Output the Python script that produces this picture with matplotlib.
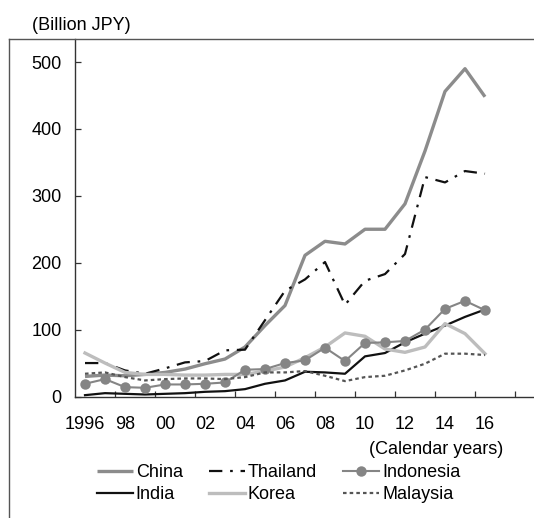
import matplotlib
matplotlib.use("Agg")
import matplotlib.pyplot as plt
from matplotlib.lines import Line2D

plt.rcParams['font.family'] = ['Liberation Sans', 'DejaVu Sans']

years = list(range(1996, 2017))
china = [30, 32, 31, 33, 36, 41, 49, 56, 74, 106, 136, 211, 232, 228, 250, 250, 288, 367, 456, 490, 448]
thailand = [50, 50, 39, 34, 42, 51, 53, 69, 70, 114, 158, 175, 201, 137, 173, 183, 213, 328, 320, 337, 333]
indonesia = [19, 26, 14, 13, 18, 18, 19, 21, 40, 41, 50, 54, 73, 53, 80, 81, 83, 100, 131, 143, 129]
india = [2, 5, 4, 3, 4, 5, 7, 8, 11, 19, 24, 37, 36, 34, 60, 65, 81, 94, 106, 119, 130]
korea = [65, 50, 36, 33, 33, 32, 32, 33, 33, 38, 44, 58, 74, 95, 90, 71, 66, 74, 109, 94, 64]
malaysia = [34, 36, 29, 24, 26, 27, 27, 26, 29, 36, 36, 38, 31, 23, 29, 31, 39, 49, 64, 64, 62]

tick_years = [1996, 1998, 2000, 2002, 2004, 2006, 2008, 2010, 2012, 2014, 2016]
tick_labels = ['1996', '98', '00', '02', '04', '06', '08', '10', '12', '14', '16']
y_ticks = [0, 100, 200, 300, 400, 500]

W, H = 534, 518
fig = plt.figure(figsize=(W / 100, H / 100), dpi=100)
ax = fig.add_axes([75 / W, 1 - 396.5 / H, (W - 75) / W, (396.5 - 39) / H])

ax.plot(years, china, color='#8c8c8c', lw=2.4, label='China', solid_capstyle='butt')
ax.plot(years, india, color='#111111', lw=1.6, label='India')
ax.plot(years, thailand, color='#111111', lw=1.6, dashes=(6, 3.5, 1.2, 3.5), label='Thailand')
ax.plot(years, korea, color='#bdbdbd', lw=2.4, label='Korea')
ax.plot(years, indonesia, color='#858585', lw=1.5, marker='o', markersize=7.5,
        markeredgewidth=0, label='Indonesia')
ax.plot(years, malaysia, color='#555555', lw=1.6, dashes=(1.6, 1.4), label='Malaysia')

ax.set_xlim(1995.5, 1996 + (W - 85) / 20)
ax.set_ylim(0, (396.5 - 39) / 0.669)

ax.set_xticks(tick_years)
ax.set_xticklabels(tick_labels)
ax.set_xticks([1997.5 + 2 * i for i in range(11)], minor=True)
ax.tick_params(axis='x', which='major', length=0, pad=14, labelsize=13)
ax.tick_params(axis='x', which='minor', direction='in', length=4, width=0.9, color='#333333')
ax.set_yticks(y_ticks)
ax.tick_params(axis='y', direction='in', length=4, width=0.9, pad=9.5, labelsize=13, color='#333333')

for s in ['top', 'right']:
    ax.spines[s].set_visible(False)
for s in ['left', 'bottom']:
    ax.spines[s].set_color('#333333')
    ax.spines[s].set_linewidth(1.0)

# outer frame lines
fig.add_artist(Line2D([9 / W, 9 / W], [0, 1 - 39 / H], transform=fig.transFigure,
                      color='#555555', lw=1.0))
fig.add_artist(Line2D([9 / W, 1], [1 - 39 / H, 1 - 39 / H], transform=fig.transFigure,
                      color='#555555', lw=1.0))

fig.text(32 / W, 1 - 26 / H, '(Billion JPY)', fontsize=13, ha='left', va='center')
fig.text(503 / W, 1 - 449 / H, '(Calendar years)', fontsize=13, ha='right', va='center')

handles, labels = ax.get_legend_handles_labels()
leg = fig.legend(handles, labels, ncol=3, loc='upper left',
                 bbox_to_anchor=(97 / W, 1 - 464 / H), frameon=False, fontsize=13,
                 handlelength=2.0, handletextpad=0.15, columnspacing=1.45,
                 labelspacing=0.3, borderpad=0, borderaxespad=0)

fig.savefig('out.png', dpi=100)
